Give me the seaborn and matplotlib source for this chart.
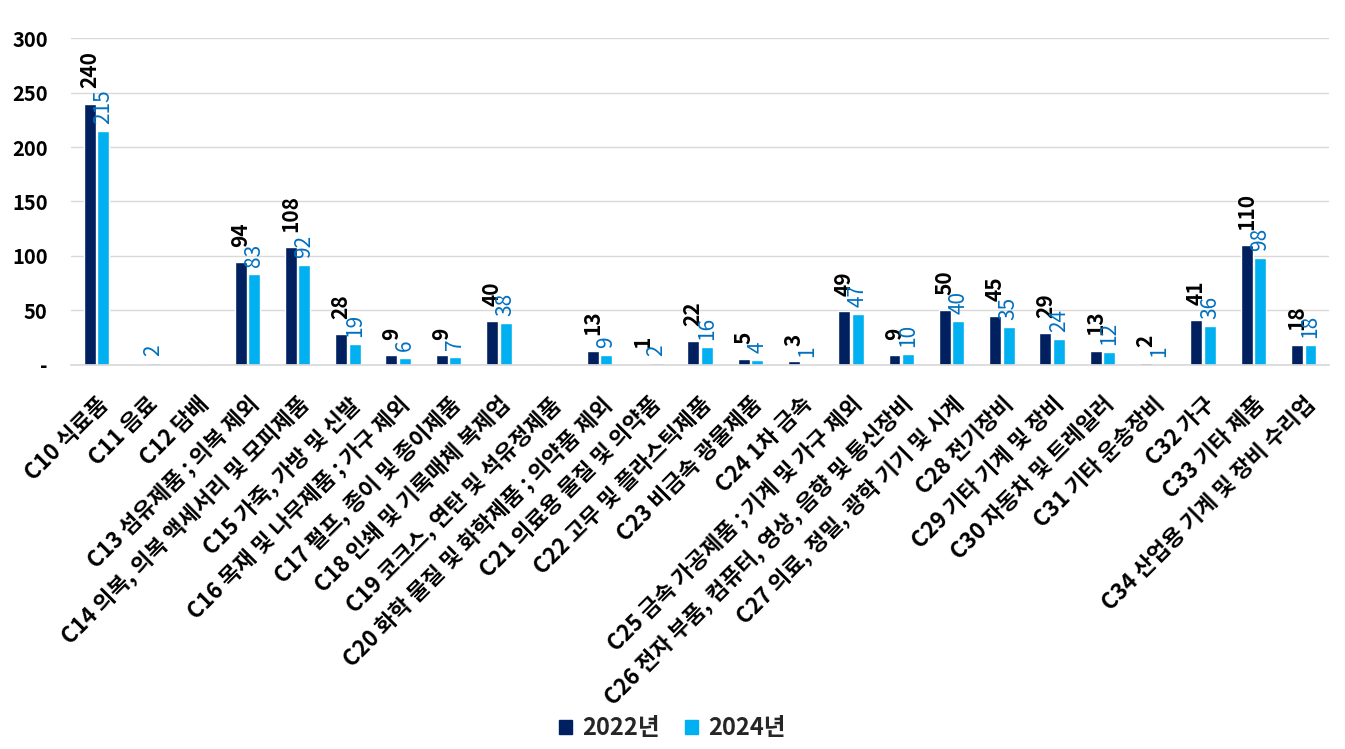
import numpy as np
import pandas as pd
import matplotlib
matplotlib.use('Agg')
import matplotlib.pyplot as plt
import seaborn as sns
from matplotlib.ticker import FuncFormatter
from matplotlib.patches import Patch

# 산업 분류 (C10 ~ C34)
categories = [
    'C10 식료품', 'C11 음료', 'C12 담배', 'C13 섬유제품 ; 의복 제외',
    'C14 의복, 의복 액세서리 및 모피제품', 'C15 가죽, 가방 및 신발',
    'C16 목재 및 나무제품 ; 가구 제외', 'C17 펄프, 종이 및 종이제품',
    'C18 인쇄 및 기록매체 복제업', 'C19 코크스, 연탄 및 석유정제품',
    'C20 화학 물질 및 화학제품 ; 의약품 제외', 'C21 의료용 물질 및 의약품',
    'C22 고무 및 플라스틱제품', 'C23 비금속 광물제품', 'C24 1차 금속',
    'C25 금속 가공제품 ; 기계 및 가구 제외',
    'C26 전자 부품, 컴퓨터, 영상, 음향 및 통신장비',
    'C27 의료, 정밀, 광학 기기 및 시계', 'C28 전기장비',
    'C29 기타 기계 및 장비', 'C30 자동차 및 트레일러', 'C31 기타 운송장비',
    'C32 가구', 'C33 기타 제품', 'C34 산업용 기계 및 장비 수리업',
]
# None = 값 없음
vals_2022 = [240, None, None, 94, 108, 28, 9, 9, 40, None, 13, 1, 22, 5, 3,
             49, 9, 50, 45, 29, 13, 2, 41, 110, 18]
vals_2024 = [215, 2, None, 83, 92, 19, 6, 7, 38, None, 9, 2, 16, 4, 1,
             47, 10, 40, 35, 24, 12, 1, 36, 98, 18]
years = ['2022년', '2024년']

col_2022 = '#002060'
col_2024 = '#00B0F0'
lab_2024 = '#0070C0'

rows = []
for y, vals in zip(years, [vals_2022, vals_2024]):
    for c, v in zip(categories, vals):
        rows.append({'cat': c, 'year': y, 'value': 0 if v is None else v})
df = pd.DataFrame(rows)

sns.set_theme(style='white')
plt.rcParams['font.family'] = ['Noto Sans CJK KR', 'DejaVu Sans']

fig = plt.figure(figsize=(13.45, 7.49), dpi=100)
ax = fig.add_axes([0.053, 0.513, 0.935, 0.436])

sns.barplot(data=df, x='cat', y='value', hue='year', order=categories,
            hue_order=years, palette=[col_2022, col_2024], width=0.54,
            gap=0.12, errorbar=None, legend=False, ax=ax, saturation=1)

# 데이터 레이블
lbl22 = ['' if v is None else str(v) for v in vals_2022]
lbl24 = ['' if v is None else str(v) for v in vals_2024]
ax.bar_label(ax.containers[0], labels=lbl22, rotation=90, padding=11,
             fontsize=15, fontweight='bold', color='black')
ax.bar_label(ax.containers[1], labels=lbl24, rotation=90, padding=5,
             fontsize=15, color=lab_2024)

ax.set_ylim(0, 300)
ax.set_xlim(-0.5, len(categories) - 0.5)
ax.set_yticks(np.arange(0, 301, 50))
ax.yaxis.set_major_formatter(FuncFormatter(lambda v, p: '-' if v == 0 else f'{int(v)}'))
ax.grid(axis='y', color='#d9d9d9', linewidth=1)
ax.set_axisbelow(True)
for s in ['top', 'right', 'left']:
    ax.spines[s].set_visible(False)
ax.spines['bottom'].set_color('#d9d9d9')
ax.set_xlabel('')
ax.set_ylabel('')
ax.tick_params(axis='both', length=0)
ax.tick_params(axis='y', pad=17)
ax.tick_params(axis='x', pad=20)

for t in ax.get_yticklabels():
    t.set_fontsize(14.5)
    t.set_fontweight('bold')
    t.set_color('black')
ax.set_xticks(range(len(categories)))
ax.set_xticklabels(categories, rotation=45, ha='right', rotation_mode='anchor',
                   fontsize=16, fontweight='bold', color='black')

handles = [Patch(color=col_2022), Patch(color=col_2024)]
fig.legend(handles, years, loc='center', bbox_to_anchor=(0.5, 0.028), ncol=2,
           frameon=False, prop={'size': 17, 'weight': 'bold'},
           handlelength=0.55, handleheight=0.55, handletextpad=0.45,
           columnspacing=1.05)

fig.savefig('out.png', dpi=100)
